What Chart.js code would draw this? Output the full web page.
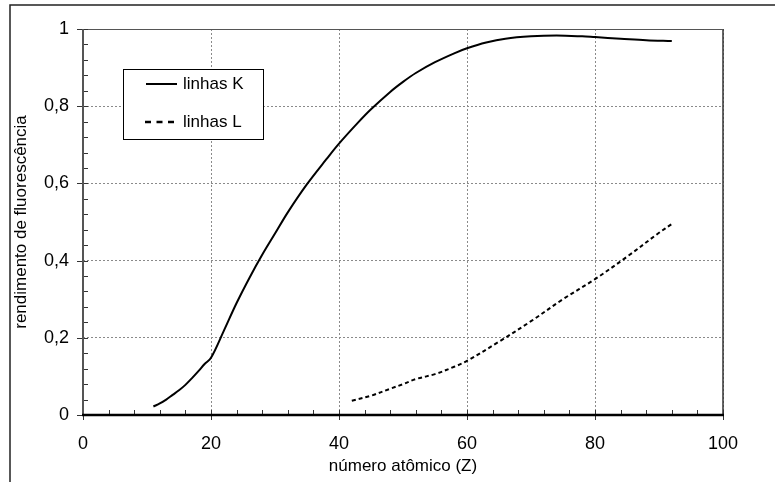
<!DOCTYPE html>
<html>
<head>
<meta charset="utf-8">
<script src="https://cdn.jsdelivr.net/npm/chart.js@4/dist/chart.umd.min.js"></script>
<style>
  html, body { margin: 0; padding: 0; background: #fff; }
  #wrap { width: 775px; height: 482px; position: relative; }
</style>
</head>
<body>
<div id="wrap"><canvas id="chartRendimento"></canvas></div>
<script>
// Dados
const zK = [11, 12, 13, 14, 15, 16, 17, 18, 19, 20, 22, 24, 26, 28, 30, 32, 35, 38, 40, 43, 45, 48, 50, 52, 55, 58, 60, 63, 66, 70, 74, 78, 80, 84, 88, 92];
const rendK = [0.022, 0.030, 0.040, 0.052, 0.064, 0.078, 0.095, 0.113, 0.132, 0.148, 0.218, 0.290, 0.355, 0.415, 0.470, 0.525, 0.598, 0.662, 0.703, 0.758, 0.792, 0.837, 0.863, 0.886, 0.914, 0.937, 0.950, 0.965, 0.975, 0.981, 0.983, 0.981, 0.979, 0.975, 0.971, 0.969];
const zL = [42, 45, 48, 50, 52, 55, 58, 60, 65, 70, 75, 80, 85, 90, 92];
const rendL = [0.037, 0.050, 0.068, 0.080, 0.093, 0.106, 0.125, 0.140, 0.190, 0.243, 0.300, 0.352, 0.410, 0.472, 0.495];
const serieNomes = ['linhas K', 'linhas L'];
const xTicks = [0, 20, 40, 60, 80, 100];
const yTicks = [0, 0.2, 0.4, 0.6, 0.8, 1];

const FONT = '"Liberation Sans", Arial, sans-serif';

// Moldura, eixos, marcas menores e legenda
const molduraPlugin = {
    id: 'moldura',
    afterDraw(chart) {
        const { ctx, chartArea: { left, right, top, bottom }, scales: { x, y } } = chart;
        ctx.save();

        // moldura externa (só topo e esquerda aparecem)
        ctx.strokeStyle = '#222';
        ctx.lineWidth = 1.5;
        ctx.beginPath();
        ctx.moveTo(10, 482);
        ctx.lineTo(10, 5);
        ctx.lineTo(775, 5);
        ctx.stroke();

        // borda direita e topo
        ctx.strokeStyle = '#333';
        ctx.lineWidth = 1.5;
        ctx.beginPath();
        ctx.moveTo(right, top);
        ctx.lineTo(right, bottom);
        ctx.stroke();
        ctx.strokeStyle = '#555';
        ctx.lineWidth = 1;
        ctx.beginPath();
        ctx.moveTo(left, top + 0.5);
        ctx.lineTo(right, top + 0.5);
        ctx.stroke();

        // marcas menores
        ctx.strokeStyle = '#333';
        ctx.lineWidth = 1;
        ctx.beginPath();
        for (let v = 0; v <= 100; v += 4) {
            const px = Math.round(x.getPixelForValue(v)) + 0.5;
            ctx.moveTo(px, bottom);
            ctx.lineTo(px, bottom - 5);
        }
        for (let v = 0; v <= 1.0001; v += 0.04) {
            const py = Math.round(y.getPixelForValue(v)) + 0.5;
            ctx.moveTo(left, py);
            ctx.lineTo(left + 5, py);
        }
        // marcas maiores (para fora)
        xTicks.forEach(v => {
            const px = Math.round(x.getPixelForValue(v)) + 0.5;
            ctx.moveTo(px, bottom);
            ctx.lineTo(px, bottom + 5);
        });
        yTicks.forEach(v => {
            const py = Math.round(y.getPixelForValue(v)) + 0.5;
            ctx.moveTo(left, py);
            ctx.lineTo(left - 6, py);
        });
        ctx.stroke();

        // eixos
        ctx.strokeStyle = '#555';
        ctx.lineWidth = 2;
        ctx.beginPath();
        ctx.moveTo(left, top);
        ctx.lineTo(left, bottom);
        ctx.stroke();
        ctx.strokeStyle = '#000';
        ctx.lineWidth = 2.5;
        ctx.beginPath();
        ctx.moveTo(left - 1, bottom);
        ctx.lineTo(right + 1, bottom);
        ctx.stroke();

        // legenda
        const lx = 123, ly = 69, lw = 140, lh = 70;
        ctx.fillStyle = '#fff';
        ctx.fillRect(lx, ly, lw, lh);
        ctx.strokeStyle = '#000';
        ctx.lineWidth = 1;
        ctx.strokeRect(lx + 0.5, ly + 0.5, lw, lh);
        chart.data.datasets.forEach((ds, i) => {
            const yy = i === 0 ? 84 : 122;
            ctx.strokeStyle = ds.borderColor;
            ctx.lineWidth = i === 0 ? 2 : 2.5;
            ctx.setLineDash(i === 0 ? [] : [6, 5.5]);
            ctx.beginPath();
            ctx.moveTo(i === 0 ? 146 : 145, yy);
            ctx.lineTo(i === 0 ? 177 : 174, yy);
            ctx.stroke();
            ctx.setLineDash([]);
            ctx.fillStyle = '#000';
            ctx.font = '17px ' + FONT;
            ctx.textBaseline = 'middle';
            ctx.textAlign = 'left';
            ctx.fillText(ds.label, 183, yy);
        });

        ctx.restore();
    }
};

const ctxRend = document.getElementById('chartRendimento').getContext('2d');
new Chart(ctxRend, {
    type: 'line',
    data: {
        datasets: [
            {
                label: serieNomes[0],
                data: zK.map((z, i) => ({ x: z, y: rendK[i] })),
                borderColor: '#000',
                borderWidth: 2,
                pointRadius: 0,
                tension: 0.35
            },
            {
                label: serieNomes[1],
                data: zL.map((z, i) => ({ x: z, y: rendL[i] })),
                borderColor: '#000',
                borderWidth: 2,
                borderDash: [4, 3],
                pointRadius: 0,
                tension: 0.35
            }
        ]
    },
    options: {
        responsive: true,
        maintainAspectRatio: false,
        animation: false,
        layout: { padding: { left: 11, top: 29, right: 52, bottom: 0 } },
        plugins: {
            legend: { display: false },
            tooltip: { enabled: false }
        },
        scales: {
            x: {
                type: 'linear',
                min: 0,
                max: 100,
                afterFit: s => { s.height = 67; },
                afterBuildTicks: s => { s.ticks = xTicks.map(v => ({ value: v })); },
                ticks: {
                    color: '#000',
                    font: { family: FONT, size: 18 },
                    padding: 18,
                    maxRotation: 0
                },
                grid: { color: '#8a8a8a', lineWidth: 1, drawTicks: false },
                border: { display: false, dash: [2, 2] },
                title: {
                    display: true,
                    text: 'número atômico (Z)',
                    color: '#000',
                    font: { family: FONT, size: 17 },
                    padding: { top: 0, bottom: 5 }
                }
            },
            y: {
                min: 0,
                max: 1,
                afterFit: s => { s.width = 72; },
                afterBuildTicks: s => { s.ticks = yTicks.map(v => ({ value: v })); },
                ticks: {
                    color: '#000',
                    font: { family: FONT, size: 18 },
                    padding: 14,
                    callback: v => String(Math.round(v * 10) / 10).replace('.', ',')
                },
                grid: { color: '#8a8a8a', lineWidth: 1, drawTicks: false },
                border: { display: false, dash: [2, 2] },
                title: {
                    display: true,
                    text: 'rendimento de fluorescência',
                    color: '#000',
                    font: { family: FONT, size: 17 },
                    padding: { top: 0, bottom: 0 }
                }
            }
        }
    },
    plugins: [molduraPlugin]
});
</script>
</body>
</html>
